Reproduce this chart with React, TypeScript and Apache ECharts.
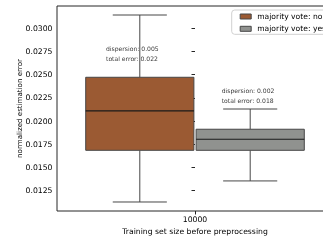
import React, { useEffect, useRef } from "react";
import * as echarts from "echarts";

const categories = ["10000"];
const seriesNames = ["majority vote: no", "majority vote: yes"];
const positions = [-0.2, 0.2];
// [min, q1, median, q3, max]
const boxNo = [0.01128, 0.01685, 0.02109, 0.02472, 0.03143];
const boxYes = [0.01355, 0.01685, 0.01804, 0.01912, 0.0213];
const dispersion = ["0.005", "0.002"];
const totalError = ["0.022", "0.018"];
const annotX = [-0.3225, 0.0967];
const annotY = [0.02829, 0.023766];
const yTicks = [0.0125, 0.015, 0.0175, 0.02, 0.0225, 0.025, 0.0275, 0.03];
const colors = ["#9b5a33", "#90928f"];

const BOX_WIDTH = 0.392;
const EDGE = "#474747";
const TEXT = "#000000";
const FONT = "DejaVu Sans";

export default function App() {
  const ref = useRef<HTMLDivElement>(null);
  useEffect(() => {
    if (!ref.current) return;
    const chart = echarts.init(ref.current, undefined, { renderer: "svg" });
    const boxes = [boxNo, boxYes];
    const renderItem = (params: any, api: any) => {
      const si = params.seriesIndex;
      const x = api.value(0);
      const v = [1, 2, 3, 4, 5].map((i) => api.value(i));
      const c = (val: number) => api.coord([x, val]);
      const w = api.size([BOX_WIDTH, 0])[0];
      const cx = c(v[2])[0];
      const yMin = c(v[0])[1];
      const yQ1 = c(v[1])[1];
      const yMed = c(v[2])[1];
      const yQ3 = c(v[3])[1];
      const yMax = c(v[4])[1];
      const cap = w / 4;
      const ls = { stroke: EDGE, lineWidth: 1 };
      return {
        type: "group",
        children: [
          { type: "line", shape: { x1: cx, y1: yQ3, x2: cx, y2: yMax }, style: ls },
          { type: "line", shape: { x1: cx, y1: yQ1, x2: cx, y2: yMin }, style: ls },
          { type: "line", shape: { x1: cx - cap, y1: yMax, x2: cx + cap, y2: yMax }, style: ls },
          { type: "line", shape: { x1: cx - cap, y1: yMin, x2: cx + cap, y2: yMin }, style: ls },
          {
            type: "rect",
            shape: { x: cx - w / 2, y: yQ3, width: w, height: yQ1 - yQ3 },
            style: { fill: colors[si], stroke: EDGE, lineWidth: 1 },
          },
          {
            type: "line",
            shape: { x1: cx - w / 2, y1: yMed, x2: cx + w / 2, y2: yMed },
            style: { stroke: "#1a1a1a", lineWidth: 1.2 },
          },
        ],
      };
    };
    chart.setOption({
      animation: false,
      textStyle: { fontFamily: FONT },
      grid: {
        left: 57,
        top: 6,
        width: 276,
        height: 205,
        show: true,
        borderColor: "#262626",
        borderWidth: 1,
        backgroundColor: "transparent",
      },
      legend: {
        left: 231.7,
        top: 10,
        orient: "vertical",
        icon: "rect",
        itemWidth: 11,
        itemHeight: 5,
        itemGap: 3.3,
        padding: [2, 4, 1, 8],
        backgroundColor: "rgba(255,255,255,0.8)",
        borderColor: "#d0d0d0",
        borderWidth: 1,
        borderRadius: 3,
        textStyle: { fontSize: 7.6, color: TEXT, fontFamily: FONT, lineHeight: 9, padding: [0, 0, 0, 1] },
        data: seriesNames.map((n, i) => ({
          name: n,
          itemStyle: { color: colors[i], borderColor: EDGE, borderWidth: 1 },
        })),
      },
      xAxis: [
        { type: "value", min: -0.5, max: 0.5, show: false },
        {
          type: "category",
          data: categories,
          position: "bottom",
          axisLine: { show: false },
          axisTick: { show: true, alignWithLabel: true, length: 3.5, lineStyle: { color: "#262626" } },
          axisLabel: { fontSize: 7.7, color: TEXT, margin: 4.5, fontFamily: FONT },
          name: "Training set size before preprocessing",
          nameLocation: "middle",
          nameGap: 16.5,
          nameMoveOverlap: false,
          nameTextStyle: { fontSize: 7.7, color: TEXT, fontFamily: FONT },
          splitLine: { show: false },
        },
      ],
      yAxis: {
        type: "value",
        min: 0.01031,
        max: 0.0324,
        axisLine: { show: false },
        splitLine: { show: false },
        axisTick: { show: true, length: 3.5, customValues: yTicks, lineStyle: { color: "#262626" } },
        axisLabel: {
          fontSize: 7.7,
          color: TEXT,
          margin: 4.5,
          customValues: yTicks,
          formatter: (v: number) => v.toFixed(4),
          fontFamily: FONT,
        },
        name: "normalized estimation error",
        nameLocation: "middle",
        nameGap: 34,
        nameMoveOverlap: false,
        nameTextStyle: { fontSize: 7.1, color: TEXT, fontFamily: FONT },
      },
      series: [
        ...seriesNames.map((n, i) => ({
          type: "custom",
          name: n,
          xAxisIndex: 0,
          yAxisIndex: 0,
          itemStyle: { color: colors[i], borderColor: EDGE },
          renderItem,
          encode: { x: 0, y: [1, 2, 3, 4, 5] },
          data: [[positions[i], ...boxes[i]]],
        })),
        {
          type: "scatter",
          name: "annotations",
          xAxisIndex: 0,
          yAxisIndex: 0,
          symbolSize: 0,
          silent: true,
          data: annotX.map((x, i) => ({
            value: [x, annotY[i]],
            label: {
              formatter: `dispersion: ${dispersion[i]}\ntotal error: ${totalError[i]}`,
            },
          })),
          label: {
            show: true,
            position: [0, 0],
            align: "left",
            verticalAlign: "top",
            color: TEXT,
            fontSize: 6.1,
            lineHeight: 9.7,
            fontFamily: FONT,
          },
        },
      ],
    });
    return () => chart.dispose();
  }, []);
  return (
    <div
      style={{
        position: "fixed",
        left: 0,
        top: 0,
        width: 323,
        height: 242,
        overflow: "hidden",
        background: "#fff",
      }}
    >
      <div ref={ref} style={{ width: 340, height: 242, opacity: 0.999, transform: "translateZ(0)" }} />
    </div>
  );
}
